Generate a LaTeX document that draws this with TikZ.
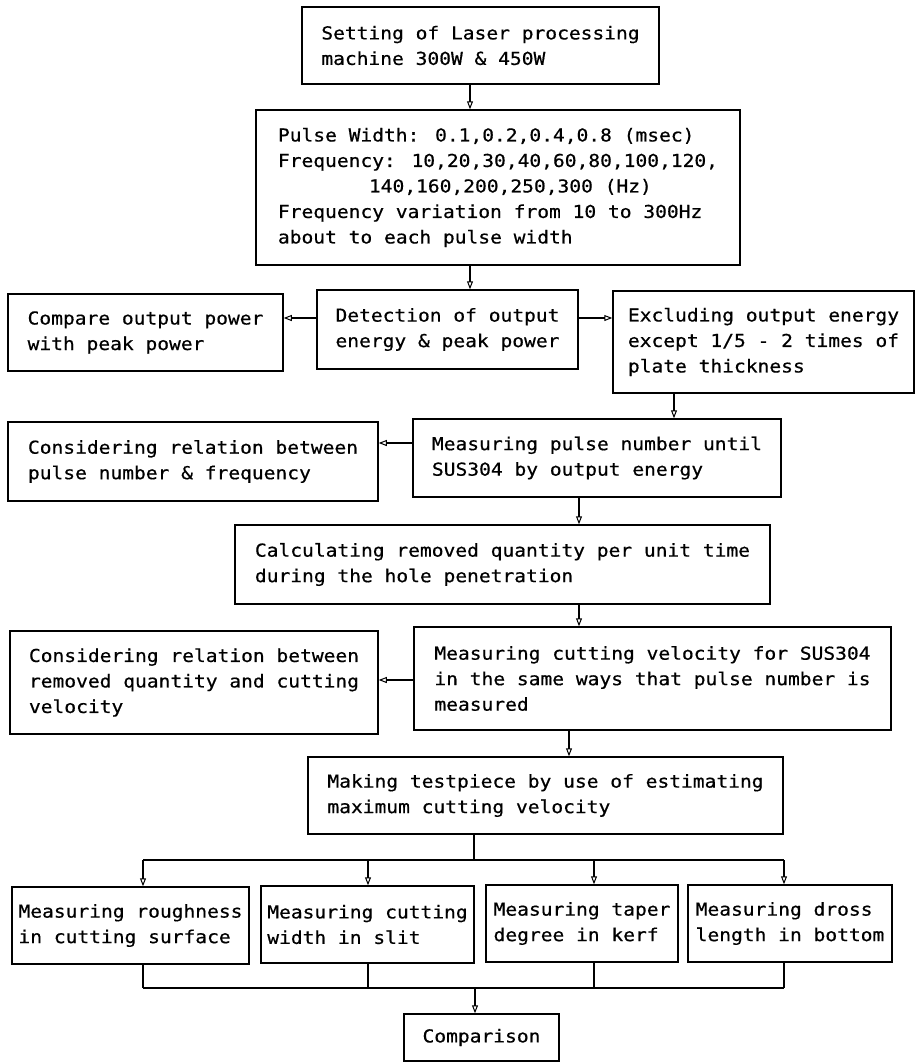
\documentclass[tikz,border=0pt]{standalone}
\usepackage{fontspec}
\usepackage{tikz}
\usetikzlibrary{arrows.meta}
\newfontfamily\plotfont[FakeStretch=1.1, FakeBold=0.6]{DejaVu Sans Mono}

\begin{document}
\begin{tikzpicture}[
  x=1pt, y=-1pt,
  stepbox/.style={draw, line width=1.5pt, align=left, inner sep=0pt,
    font={\plotfont\fontsize{17.8pt}{25.5pt}\selectfont}},
  arr/.style={line width=1.5pt, -{Triangle[open, length=8pt, width=6pt, line width=1pt]}},
  link/.style={line width=1.5pt}
]
\useasboundingbox (0,0) rectangle (916,1063);

\node[stepbox, minimum width=357pt, minimum height=77pt] (setting) at (480.5,45.5)
  {Setting of Laser processing\\machine 300W \& 450W};
\node[stepbox, minimum width=484pt, minimum height=155pt] (params) at (498,187.5)
  {Pulse Width: 0.1,0.2,0.4,0.8 (msec)\\
   Frequency: 10,20,30,40,60,80,100,120,\\
   \hspace*{91pt}140,160,200,250,300 (Hz)\\
   Frequency variation from 10 to 300Hz\\
   about to each pulse width};

\node[stepbox, minimum width=275pt, minimum height=77pt] (compare) at (145.5,332.5)
  {Compare output power\\with peak power};
\node[stepbox, minimum width=261pt, minimum height=79pt] (detect) at (447.5,329.5)
  {Detection of output\\energy \& peak power};
\node[stepbox, minimum width=301pt, minimum height=102pt] (exclude) at (763.5,342)
  {Excluding output energy\\except 1/5 - 2 times of\\plate thickness};

\node[stepbox, minimum width=370pt, minimum height=79pt] (relpulse) at (193,461.5)
  {Considering relation between\\pulse number \& frequency};
\node[stepbox, minimum width=368pt, minimum height=78pt] (pulse) at (597,458)
  {Measuring pulse number until\\SUS304 by output energy};

\node[stepbox, minimum width=535pt, minimum height=79pt] (removal) at (502.5,564.5)
  {Calculating removed quantity per unit time\\during the hole penetration};

\node[stepbox, minimum width=368pt, minimum height=103pt] (relvel) at (194,682.5)
  {Considering relation between\\removed quantity and cutting\\velocity};
\node[stepbox, minimum width=477pt, minimum height=103pt] (velocity) at (652.5,678.5)
  {Measuring cutting velocity for SUS304\\in the same ways that pulse number is\\measured};

\node[stepbox, minimum width=475pt, minimum height=77pt] (testpiece) at (545.5,795.5)
  {Making testpiece by use of estimating\\maximum cutting velocity};

\node[stepbox, minimum width=237pt, minimum height=77pt] (m1) at (130.5,925.5)
  {Measuring roughness\\in cutting surface};
\node[stepbox, minimum width=213pt, minimum height=77pt] (m2) at (367.5,924.5)
  {Measuring cutting\\width in slit};
\node[stepbox, minimum width=192pt, minimum height=77pt] (m3) at (582,923.5)
  {Measuring taper\\degree in kerf};
\node[stepbox, minimum width=204pt, minimum height=77pt] (m4) at (790,923.5)
  {Measuring dross\\length in bottom};

\node[stepbox, minimum width=155pt, minimum height=47pt] (comparison) at (481.5,1037.5)
  {Comparison};

% trunk lines and rows
\coordinate (tA) at (470,0);
\coordinate (tB) at (674,0);
\coordinate (tC) at (579,0);
\coordinate (tD) at (569,0);
\coordinate (rowA) at (0,318);
\coordinate (rowB) at (0,443);
\coordinate (rowC) at (0,680);

\draw[arr] (tA |- setting.south) -- (tA |- params.north);
\draw[arr] (tA |- params.south) -- (tA |- detect.north);
\draw[arr] (rowA -| detect.west) -- (rowA -| compare.east);
\draw[arr] (rowA -| detect.east) -- (rowA -| exclude.west);
\draw[arr] (tB |- exclude.south) -- (tB |- pulse.north);
\draw[arr] (rowB -| pulse.west) -- (rowB -| relpulse.east);
\draw[arr] (tC |- pulse.south) -- (tC |- removal.north);
\draw[arr] (tC |- removal.south) -- (tC |- velocity.north);
\draw[arr] (rowC -| velocity.west) -- (rowC -| relvel.east);
\draw[arr] (tD |- velocity.south) -- (tD |- testpiece.north);

% branch to the four measurements
\coordinate (split) at (474,860);
\coordinate (d1) at (143,860);
\coordinate (d2) at (368,860);
\coordinate (d3) at (594,860);
\coordinate (d4) at (784,860);
\coordinate (join) at (475,988);
\draw[link] (split |- testpiece.south) -- (split);
\draw[link] (d1) -- (d4);
\foreach \i in {1,...,4} {
  \draw[arr] (d\i) -- (d\i |- m\i.north);
  \draw[link] (d\i |- m\i.south) -- (d\i |- join);
}
\draw[link] (d1 |- join) -- (d4 |- join);
\draw[arr] (join) -- (join |- comparison.north);
\end{tikzpicture}
\end{document}
